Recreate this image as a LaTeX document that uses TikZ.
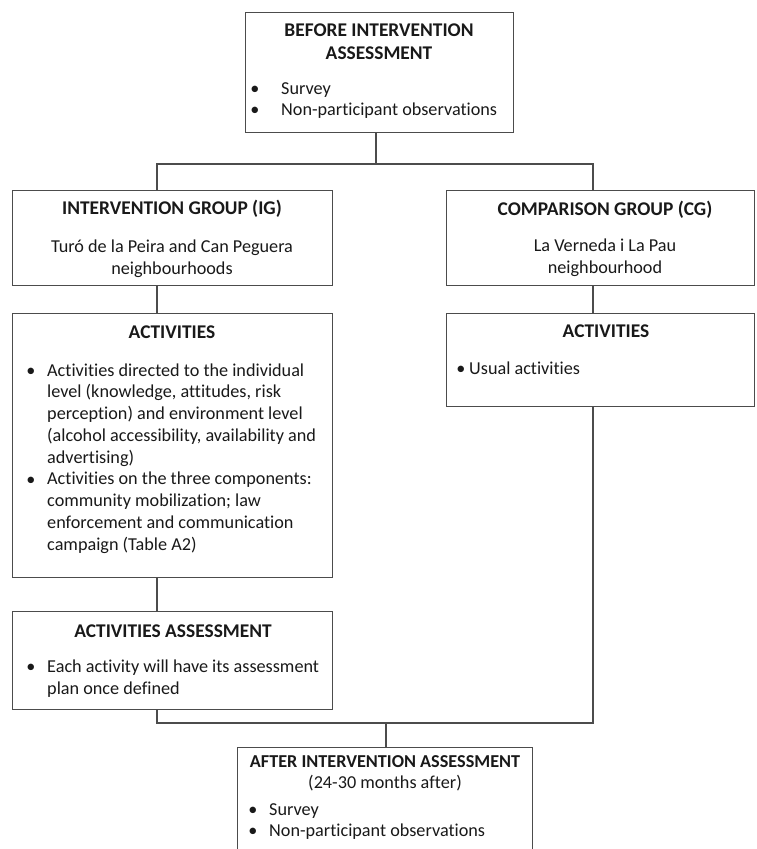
\documentclass[tikz,border=0pt]{standalone}
\usepackage{fontspec}
\setmainfont{Carlito}[Ligatures=NoCommon]

\begin{document}
\begin{tikzpicture}[x=1pt,y=-1pt,
	box/.style={draw=black!70,line width=1.1pt,anchor=north west,inner sep=0pt},
	txt/.style={text=black!90,inner sep=0pt,font=\fontsize{18.2}{21.7}\selectfont},
	head/.style={txt,anchor=base,font=\fontsize{19.4}{21.7}\selectfont\bfseries},
	line/.style={draw=black!70,line width=1.1pt}]
	\useasboundingbox (0,0) rectangle (756,849);
	\clip (0,0) rectangle (756,849);
	% boxes
	\node[box,minimum width=268pt,minimum height=120pt] (before) at (245,12) {};
	\node[box,minimum width=320pt,minimum height=95pt] (ig) at (12,190) {};
	\node[box,minimum width=308pt,minimum height=95pt] (cg) at (446,190) {};
	\node[box,minimum width=320pt,minimum height=264pt] (igact) at (12,313) {};
	\node[box,minimum width=308pt,minimum height=93pt] (cgact) at (446,313) {};
	\node[box,minimum width=320pt,minimum height=98pt] (assess) at (12,611) {};
	\node[box,minimum width=295pt,minimum height=140pt] (after) at (237,747) {};
	% texts (a node of several lines sits on its last baseline)
	\node[head,align=center] (beforetitle) at (379,59) {BEFORE INTERVENTION\\[1.3pt]ASSESSMENT};
	\node[txt,anchor=base] at (255,94) {\textbullet};
	\node[txt,anchor=base west] (beforeitem1) at (281,94) {Survey};
	\node[txt,anchor=base] at (255,115) {\textbullet};
	\node[txt,anchor=base west] (beforeitem2) at (281,115) {Non-participant observations};

	\node[head] (igtitle) at (172,214) {INTERVENTION GROUP (IG)};
	\node[txt,anchor=base,align=center] (igtext) at (172,274) {Turó de la Peira and Can Peguera\\neighbourhoods};

	\node[head] (cgtitle) at (605,215) {COMPARISON GROUP (CG)};
	\node[txt,anchor=base,align=center] (cgtext) at (605,273) {La Verneda i La Pau\\neighbourhood};

	\node[head] (igacttitle) at (172,338) {ACTIVITIES};
	\node[txt,anchor=base] at (31,376) {\textbullet};
	\node[txt,anchor=base west,align=left] (igactitem1) at (47,463) {Activities directed to the individual\\level (knowledge, attitudes, risk\\perception) and environment level\\(alcohol accessibility, availability and\\advertising)};
	\node[txt,anchor=base] at (31,485) {\textbullet};
	\node[txt,anchor=base west,align=left] (igactitem2) at (47,550) {Activities on the three components:\\community mobilization; law\\enforcement and communication\\campaign (Table A2)};

	\node[head] (cgacttitle) at (606,337) {ACTIVITIES};
	\node[txt,anchor=base] at (461,374) {\textbullet};
	\node[txt,anchor=base west] (cgactitem) at (469,374) {Usual activities};

	\node[head] (assesstitle) at (173,637) {ACTIVITIES ASSESSMENT};
	\node[txt,anchor=base] at (31,672) {\textbullet};
	\node[txt,anchor=base west,align=left] (assessitem) at (47,694) {Each activity will have its assessment\\plan once defined};

	\node[head,font=\fontsize{18.2}{21.7}\selectfont\bfseries] (aftertitle) at (385,767) {AFTER INTERVENTION ASSESSMENT};
	\node[txt,anchor=base] (aftersub) at (385,788) {(24-30 months after)};
	\node[txt,anchor=base] at (253,815) {\textbullet};
	\node[txt,anchor=base west] (afteritem1) at (269,815) {Survey};
	\node[txt,anchor=base] at (253,836) {\textbullet};
	\node[txt,anchor=base west] (afteritem2) at (269,836) {Non-participant observations};
	% connectors
	\coordinate (split) at (376,164);
	\coordinate (igtop) at (157,164);
	\coordinate (cgtop) at (593,164);
	\coordinate (join) at (386,723);
	\coordinate (igbot) at (157,723);
	\coordinate (cgbot) at (593,723);
	\draw[line] (before.south -| split) -- (split);
	\draw[line] (ig.north -| igtop) |- (cgtop) -- (cg.north -| cgtop);
	\draw[line] (ig.south -| igtop) -- (igact.north -| igtop);
	\draw[line] (cg.south -| cgtop) -- (cgact.north -| cgtop);
	\draw[line] (igact.south -| igtop) -- (assess.north -| igtop);
	\draw[line] (assess.south -| igbot) |- (cgbot) -- (cgact.south -| cgbot);
	\draw[line] (join) -- (after.north -| join);
\end{tikzpicture}
\end{document}
